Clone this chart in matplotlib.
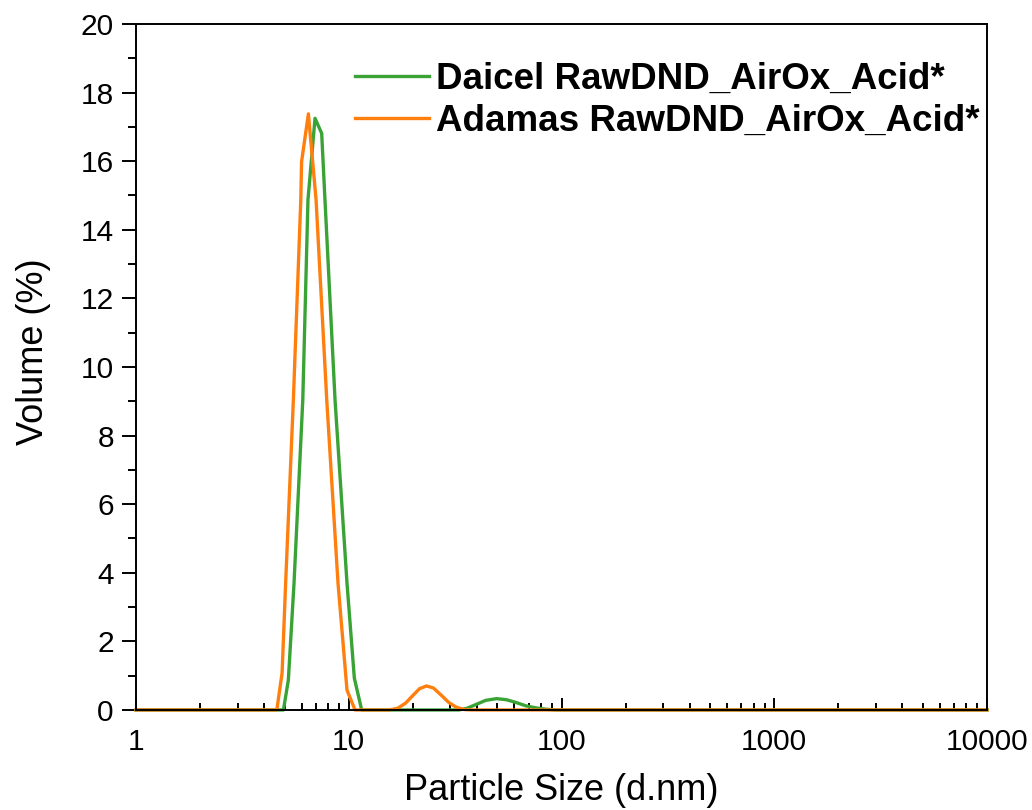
import matplotlib
matplotlib.use("Agg")
import matplotlib.pyplot as plt
from matplotlib.ticker import FixedLocator, LogLocator, NullFormatter, MultipleLocator

plt.rcParams["font.family"] = ["Liberation Sans", "DejaVu Sans"]

# particle size (d.nm) and volume (%)
daicel_size = [1, 4.93, 5.20, 5.53, 6.08, 6.43, 6.94, 7.46, 7.73, 8.62, 9.81, 10.62, 11.5,
               33, 36, 40, 44, 49.5, 55, 61, 68, 76, 85, 95, 10000]
daicel_vol = [0, 0, 0.87, 3.70, 9.04, 14.87, 17.25, 16.81, 14.87, 9.04, 3.70, 0.93, 0,
              0, 0.05, 0.17, 0.28, 0.33, 0.30, 0.22, 0.12, 0.06, 0.02, 0, 0]

adamas_size = [1, 4.59, 4.86, 5.05, 5.49, 5.95, 6.00, 6.46, 7.02, 7.88, 8.90, 9.81, 10.70,
               15.5, 17, 18.5, 20, 21.5, 23.2, 25, 27, 29.5, 32, 35, 38, 10000]
adamas_vol = [0, 0, 1.08, 3.70, 9.04, 14.87, 15.98, 17.38, 14.87, 9.04, 3.70, 0.58, 0,
              0, 0.05, 0.2, 0.42, 0.62, 0.70, 0.64, 0.45, 0.22, 0.08, 0.01, 0, 0]

labels = ["Daicel RawDND_AirOx_Acid*", "Adamas RawDND_AirOx_Acid*"]
colors = ["#3aa335", "#ff7f0e"]
x_ticks = [1, 10, 100, 1000, 10000]

fig = plt.figure(figsize=(10.32, 8.10), dpi=100)
ax = fig.add_axes([0.1318, 0.1235, 0.8246, 0.8469])

ax.plot(daicel_size, daicel_vol, color=colors[0], lw=2.4, label=labels[0], clip_on=False)
ax.plot(adamas_size, adamas_vol, color=colors[1], lw=2.4, label=labels[1], clip_on=False)

ax.set_xscale("log")
ax.set_xlim(1, 10000)
ax.set_ylim(0, 20)

ax.xaxis.set_major_locator(FixedLocator(x_ticks))
ax.set_xticklabels([str(t) for t in x_ticks])
ax.xaxis.set_minor_locator(LogLocator(base=10, subs=range(2, 10)))
ax.xaxis.set_minor_formatter(NullFormatter())
ax.yaxis.set_major_locator(MultipleLocator(2))
ax.yaxis.set_minor_locator(MultipleLocator(1))

for s in ax.spines.values():
    s.set_linewidth(1.4)

ax.tick_params(axis="x", which="major", direction="in", length=8.5, width=1.4,
               labelsize=21.5, pad=13)
ax.tick_params(axis="x", which="minor", direction="in", length=5, width=1.4)
ax.tick_params(axis="y", which="major", direction="out", length=10, width=1.4,
               labelsize=21.5, pad=6)
ax.tick_params(axis="y", which="minor", direction="out", length=5.5, width=1.4)

ax.set_xlabel("Particle Size (d.nm)", fontsize=26, labelpad=12)
ax.set_ylabel("Volume (%)", fontsize=26, labelpad=20)
ax.yaxis.set_label_coords(-0.1, 0.523)

ax.legend(loc="upper right", frameon=False, prop={"size": 26.5, "weight": "bold"},
          handlelength=2.0, handletextpad=0.2, labelspacing=0.2,
          borderaxespad=0.3, bbox_to_anchor=(1.022, 0.983))

fig.savefig("out.png", dpi=100)
